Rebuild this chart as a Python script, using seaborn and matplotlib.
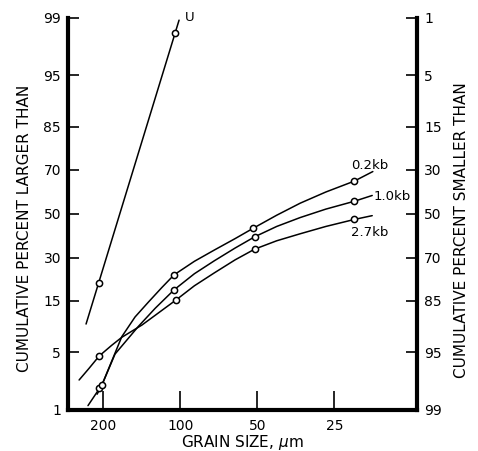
import numpy as np
import pandas as pd
import matplotlib
matplotlib.use('Agg')
import matplotlib.pyplot as plt
import seaborn as sns
from statistics import NormalDist

sns.set_style('ticks', {'axes.edgecolor': 'black', 'text.color': 'black',
                        'xtick.color': 'black', 'ytick.color': 'black',
                        'axes.labelcolor': 'black'})
plt.rcParams['font.family'] = ['DejaVu Sans']

# values: grain size (um) vs cumulative percent larger than
u_line_size = [233, 101]
u_line_pct = [9.5, 98.93]
u_pts_size = [207, 104.6]
u_pts_pct = [20.6, 98.43]

kb02_line_size = [229, 205.5, 199, 169, 150, 133, 118, 105.6, 88, 73.6, 61, 51.8, 42, 34, 27, 20.9, 17.7]
kb02_line_pct = [1.13, 1.94, 2.35, 7.2, 11.0, 14.7, 19.0, 23.4, 28.6, 33.3, 38.4, 43.2, 49.3, 55.0, 60.2, 65.1, 69.2]
kb02_pts_size = [207, 105.6, 51.8, 20.9]
kb02_pts_pct = [1.9, 23.4, 43.2, 65.1]

kb10_line_size = [211, 202.3, 179.6, 145.5, 125, 105.6, 88, 73.6, 61, 51.2, 42, 34, 27, 20.9, 17.8]
kb10_line_pct = [1.6, 2.07, 4.77, 9.05, 13.1, 18.3, 23.8, 28.8, 34.2, 39.2, 44.0, 48.2, 52.2, 55.9, 58.6]
kb10_pts_size = [202.3, 105.6, 51.2, 20.9]
kb10_pts_pct = [2.07, 18.3, 39.2, 55.9]

kb27_line_size = [248, 227, 207, 185, 169, 141, 125, 103.7, 88, 73.6, 61, 51.2, 42, 34, 27, 20.9, 17.8]
kb27_line_pct = [2.41, 3.3, 4.55, 5.9, 7.1, 9.3, 11.4, 15.3, 19.6, 24.1, 29.2, 33.7, 37.4, 40.6, 44.0, 47.3, 49.1]
kb27_pts_size = [207, 103.7, 51.2, 20.9]
kb27_pts_pct = [4.55, 15.3, 33.7, 47.3]

size_ticks = [200, 100, 50, 25]
pct_ticks = [1, 5, 15, 30, 50, 70, 85, 95, 99]

lines = pd.concat([
    pd.DataFrame({'size': u_line_size, 'pct': u_line_pct, 'run': 'U'}),
    pd.DataFrame({'size': kb02_line_size, 'pct': kb02_line_pct, 'run': '0.2kb'}),
    pd.DataFrame({'size': kb10_line_size, 'pct': kb10_line_pct, 'run': '1.0kb'}),
    pd.DataFrame({'size': kb27_line_size, 'pct': kb27_line_pct, 'run': '2.7kb'}),
])
pts = pd.concat([
    pd.DataFrame({'size': u_pts_size, 'pct': u_pts_pct, 'run': 'U'}),
    pd.DataFrame({'size': kb02_pts_size, 'pct': kb02_pts_pct, 'run': '0.2kb'}),
    pd.DataFrame({'size': kb10_pts_size, 'pct': kb10_pts_pct, 'run': '1.0kb'}),
    pd.DataFrame({'size': kb27_pts_size, 'pct': kb27_pts_pct, 'run': '2.7kb'}),
])

# probability paper scale
_nd = NormalDist()
def fwd(p):
    p = np.clip(np.asarray(p, dtype=float), 1e-4, 100 - 1e-4)
    return np.vectorize(lambda v: _nd.inv_cdf(v / 100), otypes=[float])(p)

def inv(z):
    return np.vectorize(lambda v: _nd.cdf(v) * 100, otypes=[float])(np.asarray(z, dtype=float))

fig = plt.figure(figsize=(4.78, 4.51), dpi=100)
ax = fig.add_axes([0.1423, 0.092, 0.7301, 0.8681])
ax.set_xscale('log')
ax.set_yscale('function', functions=(fwd, inv))

sns.lineplot(data=lines, x='size', y='pct', units='run', estimator=None,
             color='black', lw=1.1, ax=ax, legend=False)
sns.scatterplot(data=pts, x='size', y='pct', marker='o', s=20, color='white',
                edgecolor='black', linewidth=1.1, zorder=3, ax=ax, legend=False)

ax.set_xlim(274, 11.9)
ax.set_ylim(1, 99)
ax.set_xticks(size_ticks)
ax.set_xticklabels([str(v) for v in size_ticks])
ax.xaxis.set_minor_locator(matplotlib.ticker.NullLocator())
ax.set_yticks(pct_ticks)
ax.set_yticklabels([str(v) for v in pct_ticks])
ax.yaxis.set_minor_locator(matplotlib.ticker.NullLocator())

ax2 = ax.twinx()
ax2.set_yscale('function', functions=(fwd, inv))
ax2.set_ylim(1, 99)
ax2.set_yticks(pct_ticks)
ax2.set_yticklabels([str(100 - v) for v in pct_ticks])
ax2.yaxis.set_minor_locator(matplotlib.ticker.NullLocator())

for s in ['top', 'right']:
    ax.spines[s].set_visible(False)
for s in ['top', 'left', 'bottom']:
    ax2.spines[s].set_visible(False)
ax.spines['left'].set_linewidth(3)
ax.spines['bottom'].set_linewidth(3)
ax2.spines['right'].set_linewidth(3)

ax.tick_params(axis='y', direction='in', length=8, width=1.2, pad=5, labelsize=10)
ax.tick_params(axis='x', direction='in', length=14, width=1.2, pad=7, labelsize=10)
ax2.tick_params(axis='y', direction='in', length=8, width=1.2, pad=5, labelsize=10)

ax.set_xlabel('GRAIN SIZE, $\\mu$m', fontsize=11)
ax.xaxis.set_label_coords(0.5, -0.06)
ax.set_ylabel('CUMULATIVE PERCENT LARGER THAN', fontsize=11)
ax.yaxis.set_label_coords(-0.104, 0.463)
ax2.set_ylabel('CUMULATIVE PERCENT SMALLER THAN', fontsize=11)
ax2.yaxis.set_label_coords(1.105, 0.458)

ax.text(95.5, 99, 'U', fontsize=9.5, ha='left', va='center', clip_on=False)
ax.text(21.6, 71.7, '0.2kb', fontsize=9.5, ha='left', va='center')
ax.text(17.6, 57.9, '1.0kb', fontsize=9.5, ha='left', va='center')
ax.text(21.6, 41.4, '2.7kb', fontsize=9.5, ha='left', va='center')

fig.savefig('out.png', dpi=100)
